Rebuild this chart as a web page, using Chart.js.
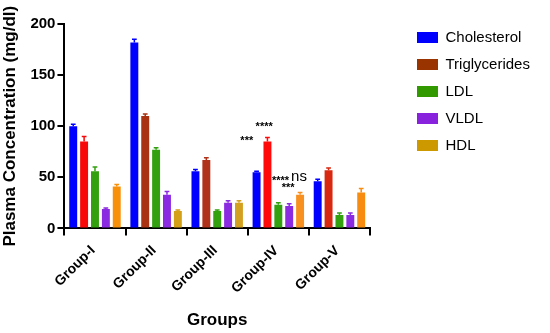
<!DOCTYPE html>
<html>
<head>
<meta charset="utf-8">
<script src="https://cdn.jsdelivr.net/npm/chart.js@4"></script>
<style>body{margin:0;background:#fff}</style>
</head>
<body>
<div style="width:550px;height:333px"><canvas id="myChart"></canvas></div>
<script>
var groups = ['Group-I', 'Group-II', 'Group-III', 'Group-IV', 'Group-V'];
var seriesNames = ['Cholesterol', 'Triglycerides', 'LDL', 'VLDL', 'HDL'];
var cholesterol = [100, 182, 56, 55, 46];
var triglycerides = [85, 110, 67, 85, 57];
var ldl = [56, 77, 17, 23, 13];
var vldl = [19, 33, 25, 22, 13];
var hdl = [41, 17, 25, 33, 35];
var cholesterolErr = [2, 3, 1.5, 1, 2];
var triglyceridesErr = [5, 2, 2, 4, 2];
var ldlErr = [4, 2, 1, 2, 2];
var vldlErr = [1, 3, 2, 2, 2];
var hdlErr = [2, 1, 2, 2, 4];
var yTicks = [0, 50, 100, 150, 200];

// significance marks on Group-IV: position along the group in bar slots, height in mg/dl
var markTexts = ['***', '****', '****', 'ns', '***'];
var markSlots = [-0.9, 0.7, 2.2, 3.9, 2.9];
var markValues = [88, 102, 49, 50, 42];
var markGroup = 3;

var legendColors = ['#0000ff', '#993300', '#339900', '#8822dd', '#cc9900'];

var FONT = "'Liberation Sans', Arial, sans-serif";

var errorBars = {
    id: 'errorBars',
    afterDatasetsDraw: function(chart) {
        var ctx = chart.ctx;
        var y = chart.scales.y;
        chart.data.datasets.forEach(function(ds, i) {
            var meta = chart.getDatasetMeta(i);
            meta.data.forEach(function(bar, j) {
                var top = y.getPixelForValue(ds.data[j] + ds.errors[j]);
                var col = Array.isArray(ds.backgroundColor) ? ds.backgroundColor[j] : ds.backgroundColor;
                ctx.save();
                ctx.strokeStyle = col;
                ctx.lineWidth = 1.5;
                ctx.beginPath();
                ctx.moveTo(bar.x, bar.y);
                ctx.lineTo(bar.x, top);
                ctx.moveTo(bar.x - bar.width * 0.3, top);
                ctx.lineTo(bar.x + bar.width * 0.3, top);
                ctx.stroke();
                ctx.restore();
            });
        });
    }
};

var sigMarks = {
    id: 'sigMarks',
    afterDatasetsDraw: function(chart) {
        var ctx = chart.ctx;
        var y = chart.scales.y;
        var b0 = chart.getDatasetMeta(0).data[markGroup];
        var b1 = chart.getDatasetMeta(1).data[markGroup];
        var step = b1.x - b0.x;
        ctx.save();
        ctx.fillStyle = '#000';
        ctx.textAlign = 'center';
        ctx.textBaseline = 'middle';
        markTexts.forEach(function(t, k) {
            var px = b0.x + markSlots[k] * step;
            var py = y.getPixelForValue(markValues[k]);
            if (t === 'ns') {
                ctx.font = '15px ' + FONT;
                ctx.fillText(t, px, py);
            } else {
                ctx.font = 'bold 11px ' + FONT;
                ctx.fillText(t, px, py + 3);
            }
        });
        ctx.restore();
    }
};

// legend keeps its natural width instead of the layout's half-width cap
var legendWidth = {
    id: 'legendWidth',
    beforeInit: function(chart) {
        var fit = chart.legend.fit;
        chart.legend.fit = function() {
            fit.call(this);
            this.width = 145;
        };
    }
};

var ctx = document.getElementById('myChart').getContext('2d');

var myChart = new Chart(ctx, {
    type: 'bar',
    data: {
        labels: groups,
        datasets: [{
            label: seriesNames[0],
            data: cholesterol,
            errors: cholesterolErr,
            backgroundColor: '#0000ff'
        }, {
            label: seriesNames[1],
            data: triglycerides,
            errors: triglyceridesErr,
            backgroundColor: ['#f80808', '#a83212', '#b0321a', '#ff0a0a', '#d82810']
        }, {
            label: seriesNames[2],
            data: ldl,
            errors: ldlErr,
            backgroundColor: '#33a010'
        }, {
            label: seriesNames[3],
            data: vldl,
            errors: vldlErr,
            backgroundColor: '#8a2be2'
        }, {
            label: seriesNames[4],
            data: hdl,
            errors: hdlErr,
            backgroundColor: ['#f8900a', '#d4a018', '#d4a020', '#f89020', '#f88c10']
        }]
    },
    options: {
        responsive: true,
        maintainAspectRatio: false,
        animation: false,
        layout: {
            padding: { top: 18, left: 0, right: 0, bottom: 0 }
        },
        datasets: {
            bar: {
                categoryPercentage: 0.89,
                barPercentage: 0.73
            }
        },
        plugins: {
            tooltip: { enabled: false },
            legend: {
                position: 'right',
                align: 'start',
                labels: {
                    boxWidth: 21,
                    boxHeight: 11,
                    padding: 12,
                    color: '#000',
                    font: { family: FONT, size: 15 },
                    generateLabels: function(chart) {
                        var items = Chart.defaults.plugins.legend.labels.generateLabels(chart);
                        items.forEach(function(it, i) {
                            it.fillStyle = legendColors[i];
                            it.strokeStyle = legendColors[i];
                            it.lineWidth = 0;
                        });
                        return items;
                    }
                }
            }
        },
        scales: {
            x: {
                offset: true,
                grid: {
                    drawOnChartArea: false,
                    drawTicks: true,
                    tickLength: 7,
                    color: '#000',
                    lineWidth: 2
                },
                border: { color: '#000', width: 2 },
                ticks: {
                    color: '#000',
                    maxRotation: 45,
                    minRotation: 45,
                    padding: 7,
                    labelOffset: -2,
                    font: { family: FONT, size: 14, weight: 'bold' }
                },
                title: {
                    display: true,
                    text: 'Groups',
                    color: '#000',
                    padding: { top: 7, bottom: 2 },
                    font: { family: FONT, size: 17, weight: 'bold' }
                }
            },
            y: {
                min: 0,
                max: 200,
                afterBuildTicks: function(scale) {
                    scale.ticks = yTicks.map(function(v) { return { value: v }; });
                },
                grid: {
                    drawOnChartArea: false,
                    drawTicks: true,
                    tickLength: 7,
                    color: '#000',
                    lineWidth: 2
                },
                border: { color: '#000', width: 2 },
                ticks: {
                    color: '#000',
                    padding: 2,
                    font: { family: FONT, size: 15, weight: 'bold' }
                },
                title: {
                    display: true,
                    text: 'Plasma Concentration (mg/dl)',
                    color: '#000',
                    padding: { top: 0, bottom: 8 },
                    font: { family: FONT, size: 17, weight: 'bold' }
                }
            },
            gapTop: {
                type: 'linear',
                axis: 'x',
                position: 'top',
                display: true,
                grid: { display: false },
                border: { display: false },
                ticks: { display: false },
                afterFit: function(scale) { scale.height = 6; }
            },
            gap: {
                type: 'linear',
                axis: 'y',
                position: 'right',
                display: true,
                grid: { display: false },
                border: { display: false },
                ticks: { display: false },
                afterFit: function(scale) { scale.width = 35; }
            }
        }
    },
    plugins: [errorBars, sigMarks, legendWidth]
});
</script>
</body>
</html>
